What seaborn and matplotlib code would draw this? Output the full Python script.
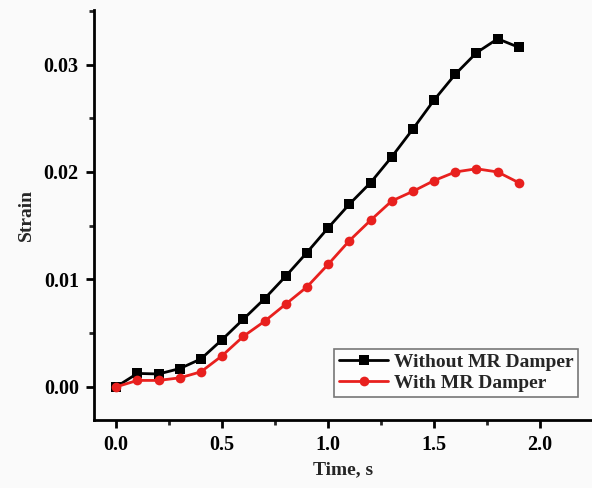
import numpy as np
import pandas as pd
import matplotlib
matplotlib.use("Agg")
import matplotlib.pyplot as plt
import seaborn as sns
from matplotlib.ticker import MultipleLocator, FormatStrFormatter

time_s = [0.0, 0.1, 0.2, 0.3, 0.4, 0.5, 0.6, 0.7, 0.8, 0.9,
          1.0, 1.1, 1.2, 1.3, 1.4, 1.5, 1.6, 1.7, 1.8, 1.9]
without_damper = [0.0, 0.00125, 0.0012, 0.0017, 0.0026, 0.0044, 0.0063, 0.0082, 0.0103, 0.0125,
                  0.0148, 0.0170, 0.0190, 0.0214, 0.0240, 0.0267, 0.0291, 0.0311, 0.0324, 0.0316]
with_damper = [0.0, 0.0006, 0.0006, 0.00084, 0.0014, 0.0029, 0.0047, 0.0061, 0.0077, 0.0093,
               0.0114, 0.0136, 0.0155, 0.0173, 0.0182, 0.0192, 0.0200, 0.0203, 0.0200, 0.0190]
series_names = ["Without MR Damper", "With MR Damper"]

df = pd.DataFrame({
    "Time": time_s * 2,
    "Strain": without_damper + with_damper,
    "Series": [series_names[0]] * len(time_s) + [series_names[1]] * len(time_s),
})

sns.set_style("ticks")
plt.rcParams["font.family"] = ["Liberation Serif", "DejaVu Serif"]
plt.rcParams["font.weight"] = "bold"

fig = plt.figure(figsize=(5.92, 4.88), dpi=100, facecolor="#fafafa")
ax = fig.add_axes([0.159, 0.139, 0.841, 0.841])
ax.set_facecolor("#fafafa")

sns.lineplot(data=df, x="Time", y="Strain", hue="Series", style="Series",
             palette={series_names[0]: "black", series_names[1]: "#e8201e"},
             markers={series_names[0]: "s", series_names[1]: "o"},
             dashes=False, linewidth=2, markersize=7, markeredgewidth=0,
             ax=ax)

ax.set_xlim(-0.104, 2.245)
ax.set_ylim(-0.0031, 0.0351)
ax.xaxis.set_major_locator(MultipleLocator(0.5))
ax.xaxis.set_minor_locator(MultipleLocator(0.25))
ax.yaxis.set_major_locator(MultipleLocator(0.01))
ax.yaxis.set_minor_locator(MultipleLocator(0.005))
ax.xaxis.set_major_formatter(FormatStrFormatter("%.1f"))
ax.yaxis.set_major_formatter(FormatStrFormatter("%.2f"))

for s in ["top", "right"]:
    ax.spines[s].set_visible(False)
for s in ["left", "bottom"]:
    ax.spines[s].set_linewidth(2)
    ax.spines[s].set_color("black")
ax.tick_params(which="major", direction="out", length=6, width=2, labelsize=14.5,
               colors="black", pad=5)
ax.tick_params(which="minor", direction="out", length=3.5, width=2)
for lab in ax.get_xticklabels() + ax.get_yticklabels():
    lab.set_fontweight("bold")

ax.set_xlabel("Time, s", fontsize=14, fontweight="bold", labelpad=4)
ax.set_ylabel("Strain", fontsize=14, fontweight="bold", labelpad=6)

leg = ax.legend(title=None, loc="lower right", bbox_to_anchor=(0.98, 0.048),
                frameon=True, fancybox=False, fontsize=14, handlelength=2.5,
                borderpad=0.25, labelspacing=0.15, handletextpad=0.3,
                borderaxespad=0.2)
leg.get_frame().set_edgecolor("#555555")
leg.get_frame().set_linewidth(1.2)
for t in leg.get_texts():
    t.set_fontweight("bold")

fig.savefig("out.png", dpi=100, facecolor=fig.get_facecolor())
